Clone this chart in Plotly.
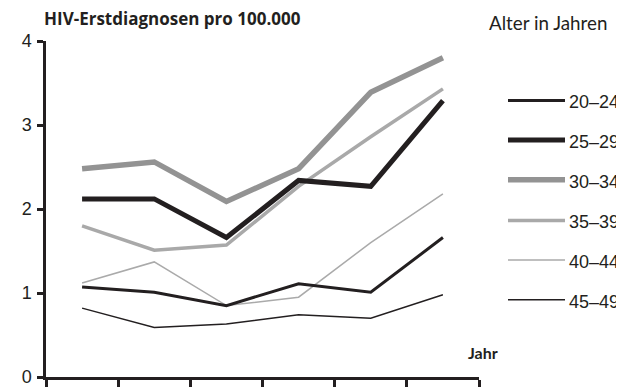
import plotly.graph_objects as go

periods = [1, 2, 3, 4, 5, 6]
age_groups = ["20–24", "25–29", "30–34", "35–39", "40–44", "45–49"]
v_20_24 = [1.07, 1.01, 0.85, 1.11, 1.01, 1.66]
v_25_29 = [2.12, 2.12, 1.66, 2.34, 2.27, 3.29]
v_30_34 = [2.48, 2.56, 2.09, 2.48, 3.39, 3.80]
v_35_39 = [1.80, 1.51, 1.57, 2.27, 2.86, 3.43]
v_40_44 = [1.12, 1.37, 0.85, 0.95, 1.60, 2.18]
v_45_49 = [0.82, 0.59, 0.63, 0.74, 0.70, 0.98]
y_ticks = [0, 1, 2, 3, 4]

series = [v_20_24, v_25_29, v_30_34, v_35_39, v_40_44, v_45_49]
colors = ["#231f20", "#231f20", "#939393", "#a9a9a9", "#aaaaaa", "#231f20"]
widths = [3, 5, 5.5, 3.5, 1.5, 1.5]
draw_order = [5, 4, 0, 3, 1, 2]

OFF = 8  # page body margin
W, H = 616, 391
L, R, T, B = 46 - OFF, 479 - OFF, 41 - OFF, 380 - OFF

def px(x):
    return (x - OFF - L) / (R - L)

def py(y):
    return (B - (y - OFF)) / (B - T)

fig = go.Figure()
for i in draw_order:
    fig.add_trace(go.Scatter(
        x=periods, y=series[i], mode="lines", name=age_groups[i],
        line=dict(color=colors[i], width=widths[i]), showlegend=False,
        hoverinfo="skip"))

numfont = "Liberation Sans, Arial, sans-serif"
txtfont = "Lato, Open Sans, sans-serif"

legend_y = [101, 141, 181, 222, 262, 302]
for i, name in enumerate(age_groups):
    yy = py(legend_y[i])
    fig.add_shape(type="line", xref="paper", yref="paper",
                  x0=px(508), x1=px(565), y0=yy, y1=yy,
                  line=dict(color=colors[i], width=widths[i]))
    fig.add_annotation(xref="paper", yref="paper", x=px(567), y=py(legend_y[i] + 2),
                       text=name, showarrow=False, xanchor="left", yanchor="middle",
                       font=dict(family=numfont, size=18, color="#231f20"))

fig.add_annotation(xref="paper", yref="paper", x=px(42), y=py(18),
                   text="<b>HIV-Erstdiagnosen pro 100.000</b>", showarrow=False,
                   xanchor="left", yanchor="middle",
                   font=dict(family="Open Sans, Lato, sans-serif", size=17, color="#231f20"))
fig.add_annotation(xref="paper", yref="paper", x=px(487), y=py(22),
                   text="Alter in Jahren", showarrow=False,
                   xanchor="left", yanchor="middle",
                   font=dict(family=txtfont, size=18.8, color="#231f20"))
fig.add_annotation(xref="paper", yref="paper", x=px(466), y=py(355),
                   text="<b>Jahr</b>", showarrow=False,
                   xanchor="left", yanchor="middle",
                   font=dict(family=txtfont, size=16, color="#231f20"))

fig.update_layout(
    width=W, height=H,
    margin=dict(l=L, r=W - R, t=T, b=H - B),
    paper_bgcolor="white", plot_bgcolor="white",
    xaxis=dict(range=[0.5, 6.5], tickvals=[p - 0.5 for p in periods] + [6.5],
               showticklabels=False, ticks="outside", ticklen=7, tickwidth=2.5,
               tickcolor="#231f20", showline=True, linecolor="#231f20", linewidth=2.5,
               showgrid=False, zeroline=False),
    yaxis=dict(range=[0, 4], tickvals=y_ticks, ticks="outside", ticklen=6, tickwidth=2.5,
               tickcolor="#231f20", showline=True, linecolor="#231f20", linewidth=2.5,
               showgrid=False, zeroline=False, ticklabelstandoff=2,
               tickfont=dict(family=numfont, size=18, color="#231f20")),
)

fig.write_html("out.html")
